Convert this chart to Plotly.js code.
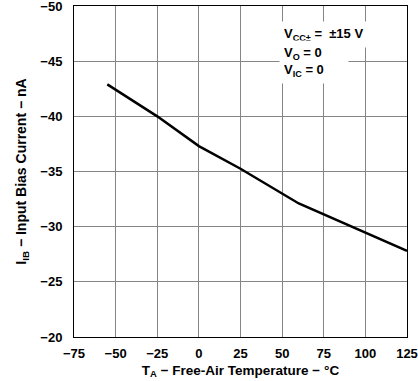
<!DOCTYPE html>
<html><head><meta charset="utf-8">
<script src="https://cdn.plot.ly/plotly-3.0.1.min.js"></script>
<style>html,body{margin:0;padding:0;background:#fff}#chart{width:418px;height:381px}</style>
</head><body><div id="chart"></div>
<script>
const temperature = [-55, -25, 0, 25, 60, 125];
const biasCurrent = [-42.9, -40.0, -37.3, -35.25, -32.1, -27.8];
const xTicks = [-75, -50, -25, 0, 25, 50, 75, 100, 125];
const yTicks = [-20, -25, -30, -35, -40, -45, -50];
const conditionLine1 = 'V<sub>CC±</sub> =  ±15 V';
const conditionLines23 = 'V<sub>O</sub> = 0<br>V<sub>IC</sub> = 0';

const fam = 'Liberation Sans, Arial, sans-serif';
const trace = {x: temperature, y: biasCurrent, mode: 'lines', line: {color: '#000', width: 2.5}, hoverinfo: 'skip'};
const annFont = {family: fam, size: 13, color: '#000', weight: 'bold'};
const annotations = [
  {x: 48, y: -48.64, xref: 'x', yref: 'y', xanchor: 'left', yanchor: 'top', align: 'left', width: 100,
   text: conditionLine1, showarrow: false, bgcolor: '#fff', borderpad: 4, font: annFont},
  {x: 48, y: -46.93, xref: 'x', yref: 'y', xanchor: 'left', yanchor: 'top', align: 'left', width: 60,
   text: conditionLines23, showarrow: false, bgcolor: '#fff', borderpad: 4, font: annFont}
];
const axisCommon = {ticks: '', showgrid: true, gridcolor: '#858585', gridwidth: 1, zeroline: false,
  showline: true, linecolor: '#000', linewidth: 1, mirror: true, ticklabeloverflow: 'allow',
  tickfont: {family: fam, size: 13, color: '#000', weight: 'bold'}};
const layout = {
  width: 418, height: 381,
  margin: {l: 74, r: 11, t: 6, b: 44},
  paper_bgcolor: '#fff', plot_bgcolor: '#fff',
  font: {family: fam, color: '#000'}, showlegend: false,
  xaxis: Object.assign({}, axisCommon, {range: [-75, 125], tickvals: xTicks, ticklabelstandoff: 4,
    title: {text: 'T<sub>A</sub> − Free-Air Temperature − °C', font: {family: fam, size: 13.5, color: '#000', weight: 'bold'}, standoff: 5}}),
  yaxis: Object.assign({}, axisCommon, {range: [-20, -50], tickvals: yTicks, ticklabelstandoff: 8,
    title: {text: 'I<sub>IB</sub> − Input Bias Current − nA', font: {family: fam, size: 14, color: '#000', weight: 'bold'}, standoff: 10}}),
  annotations: annotations
};
Plotly.newPlot('chart', [trace], layout, {staticPlot: true, displayModeBar: false});
</script></body></html>
